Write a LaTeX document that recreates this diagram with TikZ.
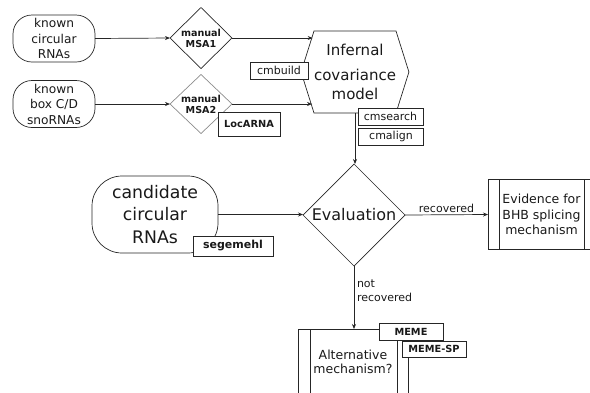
\documentclass[tikz,border=0pt]{standalone}
\usepackage{fontspec}
\setmainfont{DejaVu Sans}
\usetikzlibrary{arrows.meta,positioning,shapes.geometric,shapes.symbols}

\begin{document}
\begin{tikzpicture}[x=1pt,y=-1pt,>={Stealth[length=5pt,width=4pt]},
  line width=0.7pt, draw=black!85,
  every node/.style={inner sep=0pt,outer sep=0pt,text=black!90},
  src/.style={draw,rounded corners=19pt,minimum width=82pt,minimum height=47pt,
    align=center,font=\fontsize{12.2}{15.5}\selectfont},
  msa/.style={draw,diamond,minimum width=62pt,minimum height=61pt,align=center,
    font=\fontsize{9.6}{11}\selectfont\bfseries},
  tool/.style={draw,fill=white,minimum height=17pt,font=\fontsize{11}{13}\selectfont},
  btool/.style={tool,font=\fontsize{9.8}{12}\selectfont\bfseries},
  proc/.style={draw,align=center,font=\fontsize{12.5}{15.5}\selectfont},
  flow/.style={->,line width=0.7pt}]
  \useasboundingbox (0,0) rectangle (590,392);
  \clip (0,0) rectangle (590,392);
  % inputs and alignments
  \node[src] (known1) at (54,38.5) {known\\circular\\RNAs};
  \node[src] (known2) at (54,104) {known\\box C/D\\snoRNAs};
  \node[msa] (msa1) at (201,38) {manual\\MSA1};
  \node[msa,draw=black!45,minimum height=59pt] (msa2) at (201,104) {manual\\MSA2};
  \node[signal,signal to=west and east,signal pointer angle=145,draw,
    minimum width=100pt,minimum height=82pt,align=center,
    font=\fontsize{15}{19}\selectfont] (infernal) at (355,72)
    {Infernal\\[6pt]covariance\\model};
  \draw[flow] (known1.east) -- (msa1.west);
  \draw[flow] (known2.east) -- (msa2.west);
  \draw[flow] (msa1.east) -- (msa1.east -| infernal.139);
  \draw[flow] (msa2.east) -- (msa2.east -| infernal.219);
  \node[tool,minimum width=58pt] (cmbuild) at (279,70.5) {cmbuild};
  \node[tool,minimum width=65pt] (cmsearch) at (390.5,116.5) {cmsearch};
  \node[tool,minimum width=65pt] (cmalign) at (391,136.5) {cmalign};
  \node[btool,minimum width=62pt,minimum height=24pt] (locarna) at (249,124) {LocARNA};
  % evaluation
  \node[draw,rounded corners=30pt,minimum width=126pt,minimum height=77pt,align=center,
    font=\fontsize{17.3}{22.5}\selectfont] (cand) at (155,214.5) {candidate\\circular\\RNAs};
  \node[draw,diamond,minimum width=102pt,minimum height=102pt,
    font=\fontsize{16}{19}\selectfont] (eval) at (354,215) {Evaluation};
  \node[proc,minimum width=107pt,minimum height=70pt] (evid) at (541.5,214.5)
    {Evidence for\\BHB splicing\\mechanism};
  \draw ([xshift=11pt]evid.north west) -- ([xshift=11pt]evid.south west);
  \draw ([xshift=-11pt]evid.north east) -- ([xshift=-11pt]evid.south east);
  \node[proc,minimum width=110pt,minimum height=66pt] (alt) at (353,362)
    {Alternative\\[-1pt]mechanism?};
  \draw ([xshift=12pt]alt.north west) -- ([xshift=12pt]alt.south west);
  \draw ([xshift=-11pt]alt.north east) -- ([xshift=-11pt]alt.south east);
  \draw[flow] (infernal.south) -- (infernal.south |- eval.north);
  \draw[flow] (cand.east) -- (cand.east -| eval.west);
  \draw[flow] (eval.east) -- (evid.west)
    node[midway,above=2pt,font=\fontsize{11}{13}\selectfont] {recovered};
  \draw[flow] (eval.south) -- (eval.south |- alt.north)
    node[pos=0.4,right=3pt,align=left,font=\fontsize{11}{14}\selectfont] {not\\recovered};
  \node[btool,minimum width=80pt,minimum height=20pt,font=\fontsize{11}{13}\selectfont\bfseries]
    (segemehl) at (233,246) {segemehl};
  \node[btool,minimum width=64pt] (meme) at (411,331.5) {MEME};
  \node[btool,minimum width=64pt,minimum height=16pt] (memesp) at (434,349) {MEME-SP};
\end{tikzpicture}
\end{document}
